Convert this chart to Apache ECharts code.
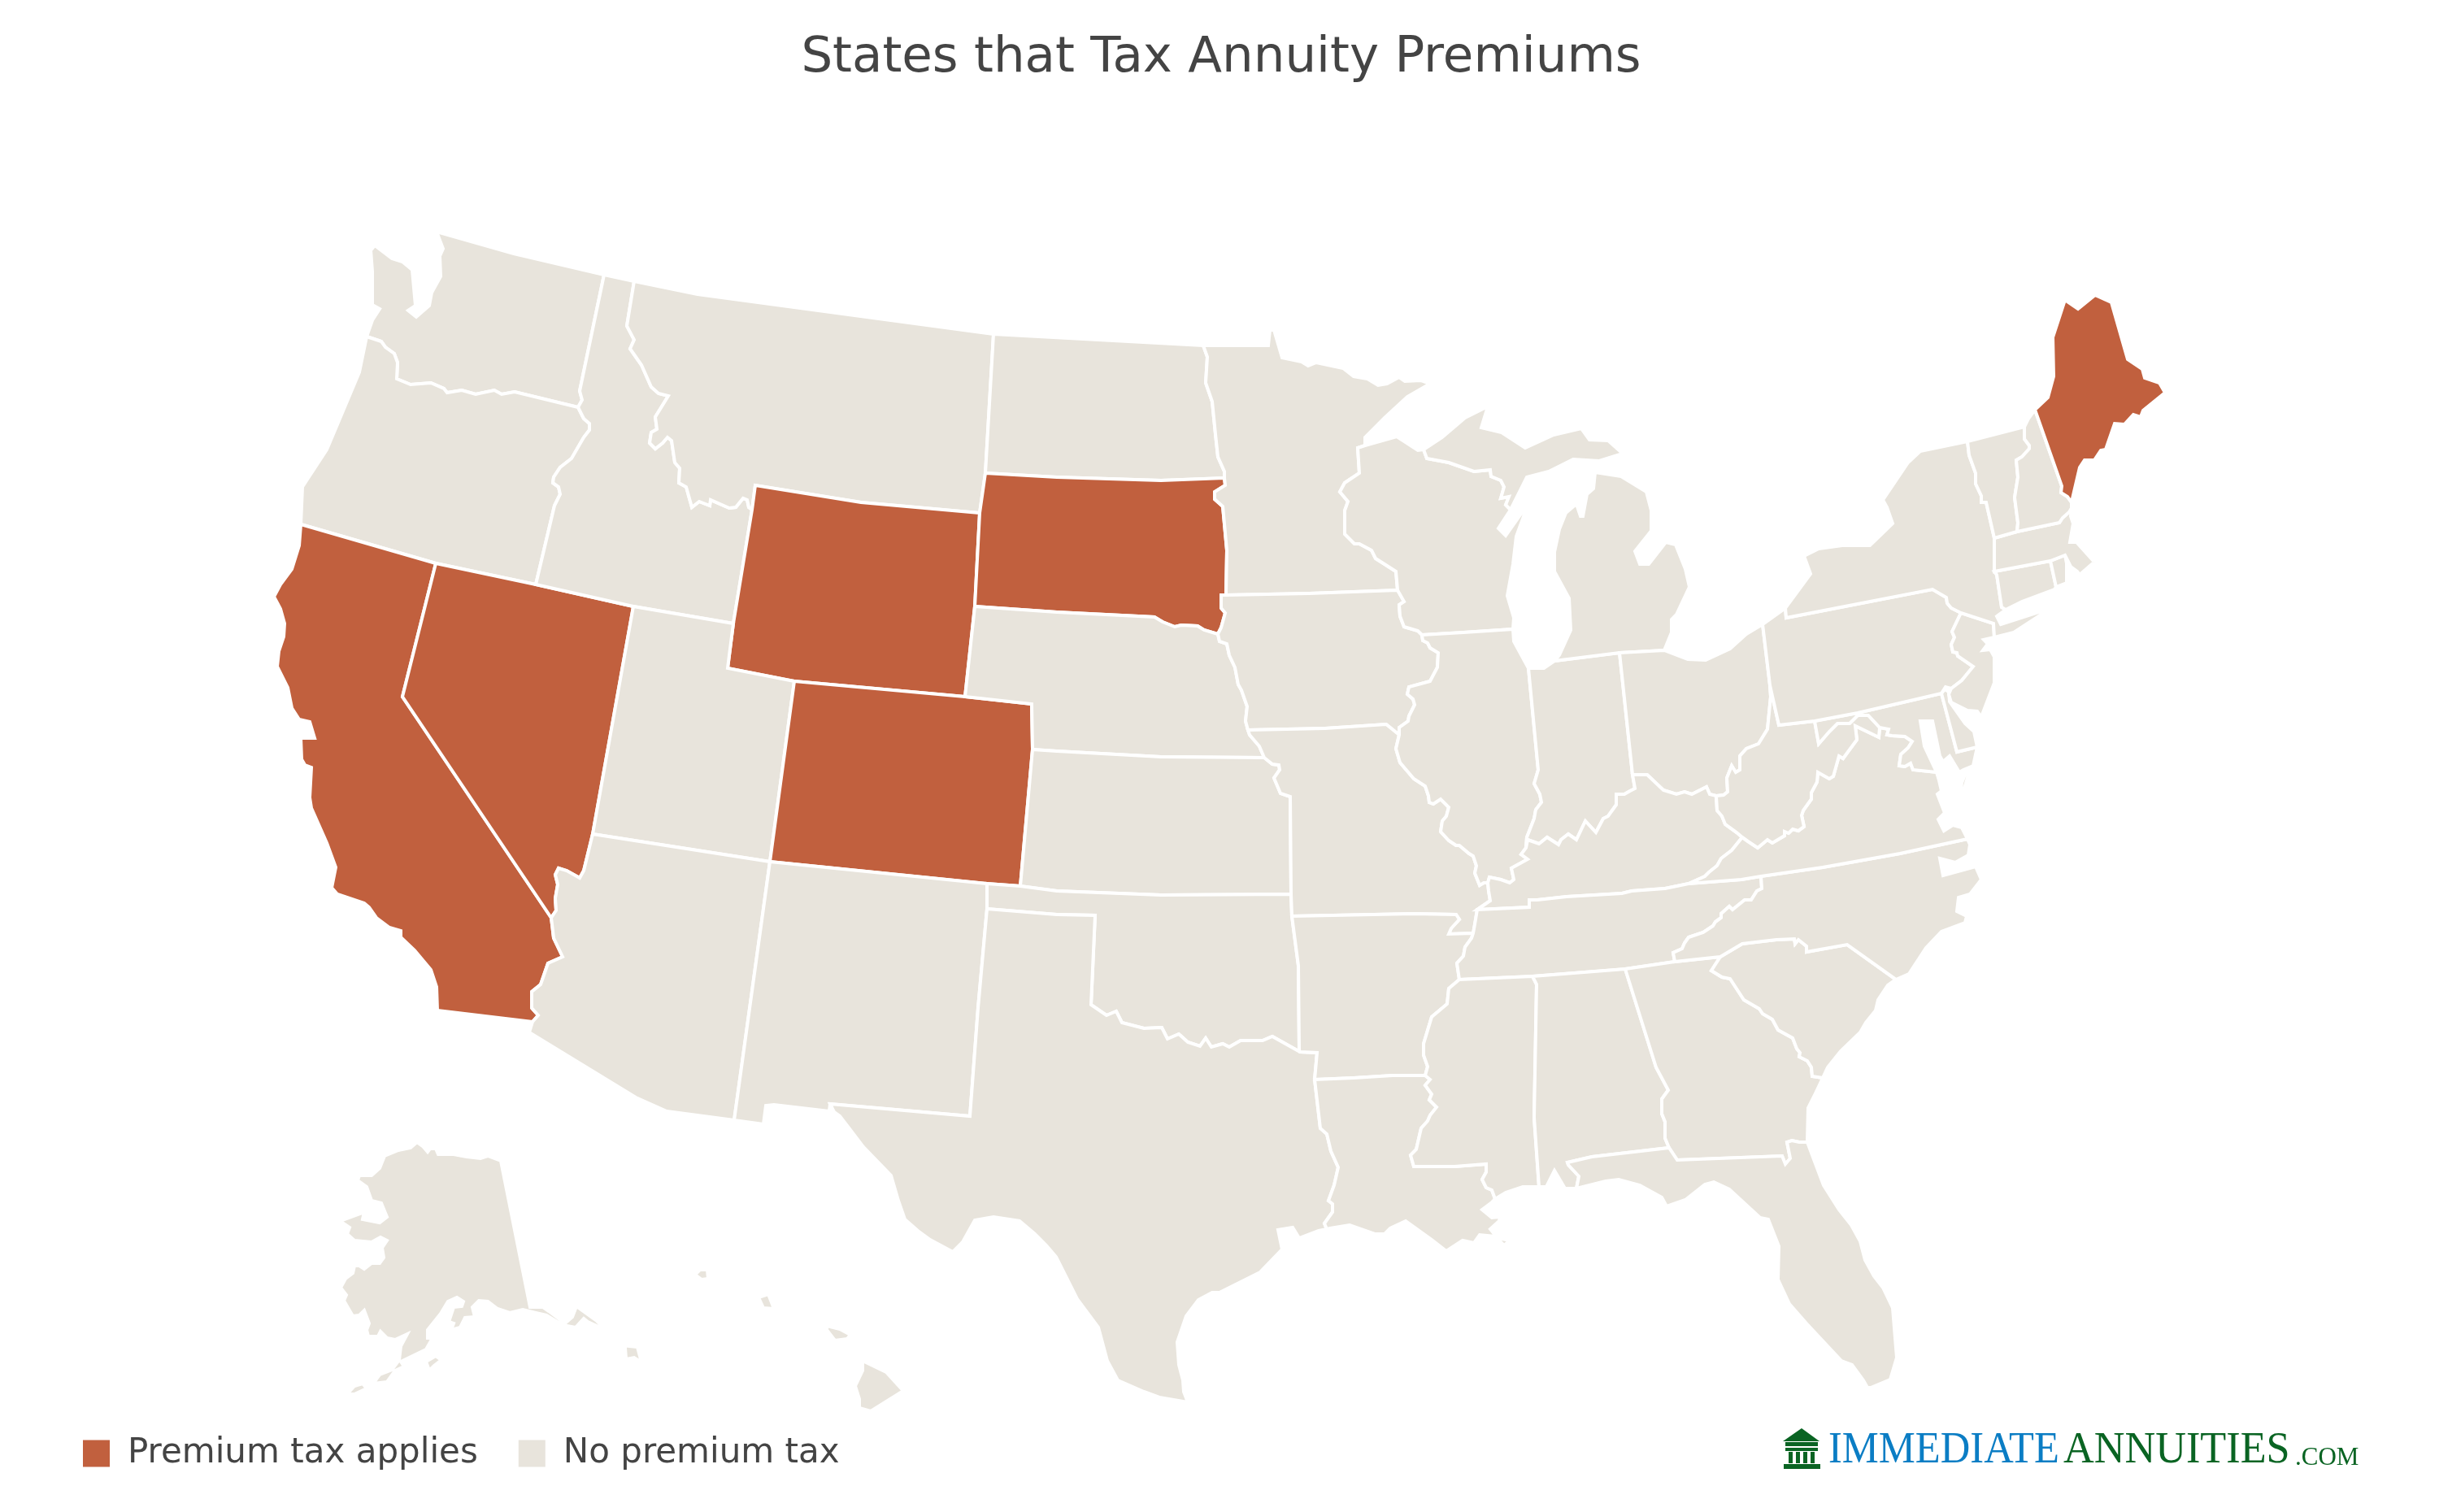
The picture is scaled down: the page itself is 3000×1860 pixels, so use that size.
<!DOCTYPE html>
<html>
<head>
<meta charset="utf-8">
<title>States that Tax Annuity Premiums</title>
<script src="https://cdn.jsdelivr.net/npm/echarts@6/dist/echarts.min.js"></script>
<style>
  html, body { margin: 0; background: #fff; }
  #chart { width: 3000px; height: 1860px; }
</style>
</head>
<body>
<div id="chart"></div>
<script>
// state lines in map units (x to the right, y downwards), traced from the picture
// and named after the two sides they separate so neighbours share one line
const waCoast = [[451,414],[458,394],[467,380],[458,375],[458,334],[456,308],[461,302],[482,318],[495,322],[507,332],[511,376],[502,382],[512,390],[528,376],[531,360],[542,340],[541,315],[545,306],[537,285]];
const waNorth = [[537,285],[632,312],[743,338]];
const waId = [[743,338],[713,481],[716,492],[711,501]];
const waOr = [[451,414],[469,420],[474,427],[485,435],[489,446],[488,466],[505,473],[530,471],[546,478],[550,483],[568,480],[585,485],[608,480],[617,485],[633,482],[711,501]];
const orId = [[711,501],[718,515],[725,521],[725,529],[718,538],[703,564],[689,575],[681,587],[680,594],[687,599],[689,608],[682,622],[659,719]];
const orCoast = [[451,414],[442,458],[402,553],[372,599],[370,645]];
const orCa = [[370,645],[536,693]];
const orNv = [[536,693],[659,719]];
const idNv = [[659,719],[779,746]];
const idUt = [[779,746],[902,767]];
const idNorth = [[743,338],[780,346]];
const idMt = [[780,346],[771,401],[780,418],[775,429],[782,439],[789,449],[801,476],[810,484],[822,487],[806,513],[808,528],[801,532],[799,545],[806,552],[815,545],[821,538],[826,542],[830,569],[836,576],[835,594],[844,599],[851,624],[860,617],[873,622],[874,615],[897,625],[905,624],[914,613],[919,615],[921,624],[925,627]];
const idWy = [[925,627],[902,767]];
const mtNorth = [[780,346],[858,362],[1222,411]];
const mtWy = [[925,627],[929,597],[1059,618],[1205,631]];
const mtNd = [[1222,411],[1212,582]];
const mtSd = [[1212,582],[1205,631]];
const ndNorth = [[1222,411],[1480,425]];
const ndSd = [[1212,582],[1300,587],[1428,591],[1506,588]];
const ndMn = [[1480,425],[1485,439],[1483,471],[1491,494],[1495,534],[1498,562],[1506,580],[1506,588]];
const sdMn = [[1506,588],[1507,597],[1494,605],[1494,614],[1504,623],[1509,677],[1508,732]];
const sdIa = [[1508,732],[1502,732],[1502,748],[1507,754],[1502,772],[1498,780]];
const neSd = [[1199,746],[1300,753],[1420,759],[1430,765],[1445,771],[1453,769],[1473,770],[1481,775],[1498,780]];
const wySd = [[1205,631],[1199,746]];
const wyNe = [[1199,746],[1187,857]];
const coWy = [[977,838],[1187,857]];
const utWy = [[902,767],[895,822],[977,838]];
const utCo = [[977,838],[947,1060]];
const utAz = [[729,1026],[947,1060]];
const nvUt = [[779,746],[729,1026]];
const nvAz = [[729,1026],[718,1071],[713,1080],[697,1071],[687,1068],[683,1076],[686,1088],[683,1105],[684,1120],[678,1129]];
const caNv = [[536,693],[495,857],[678,1129]];
const caAz = [[678,1129],[681,1154],[692,1177],[674,1185],[665,1211],[654,1220],[654,1240],[662,1249],[655,1257]];
const caMex = [[655,1257],[538,1243]];
const caCoast = [[538,1243],[537,1214],[530,1193],[510,1169],[493,1153],[493,1145],[479,1141],[463,1129],[454,1116],[448,1111],[415,1100],[408,1092],[413,1067],[402,1037],[383,994],[381,981],[383,944],[375,941],[371,934],[370,908],[387,908],[381,888],[368,885],[359,871],[354,846],[341,820],[343,801],[349,783],[350,767],[345,749],[337,734],[345,719],[359,700],[368,671],[370,645]];
const azMex = [[655,1257],[651,1270],[782,1350],[820,1367],[903,1378]];
const azNm = [[947,1060],[903,1378]];
const coNm = [[947,1060],[1214,1087]];
const coOk = [[1214,1087],[1255,1090]];
const neCo = [[1187,857],[1269,866],[1270,922]];
const coKs = [[1270,922],[1255,1090]];
const nmOk = [[1214,1087],[1214,1118]];
const nmTx = [[1214,1118],[1203,1240],[1193,1373],[1021,1358]];
const nmMex = [[1021,1358],[1020,1367],[952,1359],[942,1360],[939,1383],[903,1378]];
const iaNe = [[1498,780],[1500,789],[1509,792],[1512,806],[1519,821],[1523,842],[1527,849],[1534,869],[1532,887],[1535,898]];
const neMo = [[1535,898],[1537,904],[1549,918],[1555,932]];
const neKs = [[1270,922],[1300,924],[1428,931],[1555,932]];
const ksMo = [[1555,932],[1565,940],[1573,941],[1574,947],[1567,957],[1575,976],[1587,980],[1588,1100]];
const ksOk = [[1255,1090],[1300,1096],[1428,1101],[1588,1100]];
const okMo = [[1588,1100],[1589,1127]];
const okAr = [[1589,1127],[1597,1188],[1598,1292],[1599,1294]];
const okTx = [[1214,1118],[1300,1125],[1347,1126],[1342,1236],[1361,1249],[1373,1244],[1380,1258],[1407,1265],[1429,1264],[1436,1278],[1450,1272],[1461,1282],[1476,1287],[1483,1277],[1490,1288],[1504,1284],[1512,1288],[1526,1280],[1553,1280],[1565,1275],[1599,1294]];
const txAr = [[1599,1294],[1620,1295],[1617,1328]];
const txLa = [[1617,1328],[1624,1388],[1632,1395],[1637,1416],[1646,1436],[1641,1458],[1634,1477],[1639,1481],[1639,1491],[1629,1505],[1632,1512]];
const txCoast = [[1632,1512],[1622,1514],[1598,1523],[1590,1510],[1572,1513],[1577,1537],[1550,1565],[1500,1590],[1491,1590],[1474,1599],[1459,1619],[1448,1651],[1450,1679],[1455,1698],[1456,1712],[1461,1725],[1426,1719],[1407,1712],[1375,1698],[1362,1674],[1351,1633],[1325,1598],[1299,1546],[1287,1532],[1273,1518],[1254,1502],[1222,1497],[1199,1501],[1184,1528],[1172,1540],[1144,1525],[1129,1514],[1113,1500],[1105,1477],[1096,1446],[1062,1411],[1043,1386],[1033,1373],[1026,1368],[1021,1358]];
const mnNorth = [[1480,425],[1560,425],[1562,406],[1567,406],[1577,440],[1601,445],[1609,450],[1619,446],[1652,453],[1665,463],[1682,466],[1695,474],[1706,472],[1721,464],[1728,469],[1748,468],[1759,472],[1731,488],[1703,514],[1679,538],[1679,548]];
const mnWi = [[1679,548],[1670,551],[1672,582],[1654,594],[1648,605],[1658,617],[1654,628],[1654,657],[1666,669],[1672,669],[1687,677],[1692,687],[1703,694],[1717,703],[1719,726]];
const mnIa = [[1508,732],[1610,730],[1719,726]];
const wiIa = [[1719,726],[1727,740],[1721,744],[1722,758],[1727,771],[1744,776],[1749,781]];
const iaIl = [[1749,781],[1750,788],[1756,791],[1759,797],[1769,803],[1768,821],[1759,838],[1733,845],[1731,854],[1738,860],[1740,867],[1733,881],[1732,887],[1721,895],[1721,904]];
const iaMo = [[1535,898],[1630,896],[1705,891],[1721,904]];
const ilMo = [[1721,904],[1717,921],[1722,938],[1739,958],[1753,967],[1757,979],[1758,987],[1763,989],[1772,983],[1782,993],[1779,1004],[1774,1010],[1772,1023],[1782,1034],[1791,1040],[1795,1040],[1807,1050],[1812,1053],[1816,1065],[1814,1074],[1820,1089],[1825,1086],[1830,1086]];
const ilKy = [[1830,1086],[1832,1079],[1846,1082],[1857,1086],[1862,1082],[1859,1068],[1879,1057],[1871,1051],[1877,1043]];
const moKy = [[1830,1086],[1831,1096],[1833,1108],[1817,1119]];
const moTn = [[1817,1119],[1814,1137],[1812,1148]];
const moAr = [[1589,1127],[1739,1124],[1791,1125],[1795,1131],[1785,1142],[1782,1149],[1812,1148]];
const arTn = [[1812,1148],[1810,1154],[1802,1165],[1800,1176],[1792,1185],[1795,1205]];
const arMs = [[1795,1205],[1782,1216],[1780,1235],[1761,1251],[1751,1284],[1751,1298],[1756,1312],[1753,1323]];
const arLa = [[1617,1328],[1665,1326],[1713,1323],[1753,1323]];
const laMs = [[1753,1323],[1759,1328],[1753,1335],[1761,1346],[1758,1353],[1767,1362],[1759,1372],[1756,1379],[1748,1388],[1742,1414],[1735,1421],[1739,1435],[1789,1435],[1828,1432],[1828,1442],[1823,1451],[1828,1461],[1835,1464],[1839,1475]];
const laCoast = [[1839,1475],[1835,1479],[1823,1488],[1835,1498],[1845,1497],[1844,1502],[1833,1512],[1842,1523],[1857,1526],[1850,1532],[1839,1521],[1820,1519],[1813,1529],[1799,1526],[1779,1539],[1761,1525],[1729,1502],[1710,1511],[1703,1518],[1691,1518],[1660,1507],[1636,1511],[1632,1512]];
const tnMs = [[1795,1205],[1885,1201]];
const msAl = [[1885,1201],[1890,1211],[1887,1375],[1893,1460]];
const msCoast = [[1893,1460],[1873,1460],[1852,1467],[1839,1475]];
const alTn = [[1885,1201],[1999,1192]];
const alGa = [[1999,1192],[2037,1313],[2052,1341],[2044,1352],[2044,1370],[2048,1380],[2048,1400],[2053,1412]];
const alFl = [[2053,1412],[1958,1423],[1928,1430],[1929,1433],[1942,1447],[1939,1462]];
const alCoast = [[1939,1462],[1925,1462],[1912,1440],[1902,1460],[1893,1460]];
const gaTn = [[1999,1192],[2060,1183]];
const gaNc = [[2060,1183],[2116,1177]];
const gaSc = [[2116,1177],[2105,1194],[2118,1202],[2128,1204],[2145,1230],[2164,1241],[2168,1247],[2180,1254],[2187,1267],[2205,1277],[2210,1290],[2214,1295],[2213,1300],[2223,1305],[2228,1313],[2229,1324],[2242,1326]];
const gaCoast = [[2242,1326],[2233,1345],[2224,1363],[2223,1405]];
const gaFl = [[2223,1405],[2213,1405],[2204,1403],[2198,1405],[2202,1425],[2196,1432],[2192,1422],[2063,1427],[2053,1412]];
const flCoast = [[2223,1405],[2243,1458],[2262,1488],[2277,1507],[2288,1527],[2294,1550],[2305,1570],[2316,1584],[2328,1609],[2333,1670],[2325,1697],[2301,1707],[2297,1707],[2292,1698],[2278,1679],[2265,1674],[2222,1628],[2201,1604],[2187,1574],[2188,1533],[2175,1500],[2165,1498],[2127,1463],[2108,1454],[2097,1457],[2073,1476],[2050,1484],[2044,1473],[2017,1458],[1991,1451],[1975,1453],[1939,1462]];
const ncTn = [[2060,1183],[2058,1172],[2069,1167],[2072,1160],[2077,1153],[2095,1147],[2107,1139],[2110,1134],[2117,1129],[2117,1124],[2127,1115],[2131,1119],[2146,1107],[2154,1107],[2161,1096],[2167,1093],[2166,1078]];
const kyTn = [[1817,1119],[1881,1116],[1881,1107],[1891,1107],[1927,1103],[1995,1099],[2007,1096],[2048,1093],[2077,1087]];
const vaTn = [[2077,1087],[2142,1082],[2166,1078]];
const vaNc = [[2166,1078],[2242,1067],[2337,1050],[2420,1032]];
const ncCoast = [[2420,1032],[2423,1039],[2421,1052],[2405,1061],[2386,1056],[2390,1077],[2430,1066],[2437,1082],[2423,1100],[2409,1104],[2407,1121],[2419,1127],[2417,1135],[2388,1146],[2369,1166],[2348,1198],[2332,1205]];
const ncSc = [[2116,1177],[2143,1161],[2185,1156],[2207,1155],[2208,1161],[2212,1156],[2222,1164],[2222,1171],[2272,1162],[2332,1205]];
const scCoast = [[2332,1205],[2322,1212],[2310,1230],[2307,1243],[2295,1258],[2288,1270],[2264,1293],[2248,1313],[2242,1326]];
const kyVa = [[2077,1087],[2097,1078],[2102,1073],[2112,1065],[2117,1056],[2130,1046],[2143,1030]];
const kyWv = [[2143,1030],[2136,1024],[2122,1014],[2118,1004],[2112,997],[2111,979]];
const ohKy = [[2008,953],[2026,953],[2046,972],[2062,977],[2072,974],[2081,977],[2099,968],[2103,977],[2111,979]];
const inKy = [[1877,1043],[1879,1033],[1893,1038],[1903,1030],[1917,1039],[1920,1033],[1929,1026],[1939,1033],[1950,1010],[1963,1024],[1972,1007],[1978,1004],[1988,990],[1988,977],[1998,977],[2005,973],[2011,970],[2008,953]];
const ilIn = [[1880,822],[1892,947],[1887,964],[1894,977],[1896,987],[1889,996],[1887,1007],[1878,1030],[1877,1043]];
const inOh = [[1992,803],[2008,953]];
const inLake = [[1880,822],[1899,822],[1912,813]];
const inMi = [[1912,813],[1992,803]];
const miOh = [[1992,803],[2047,800]];
const ohLake = [[2047,800],[2076,811],[2098,812],[2128,798],[2148,780],[2168,768]];
const ohPa = [[2168,768],[2177,843]];
const ohWv = [[2177,843],[2178,857],[2174,897],[2163,915],[2148,921],[2140,930],[2140,947],[2135,950],[2130,942],[2124,957],[2125,974],[2120,978],[2111,979]];
const wvPa = [[2177,843],[2188,892]];
const paWv = [[2188,892],[2232,887]];
const mdWv = [[2232,887],[2237,915],[2250,900],[2260,890],[2275,890],[2285,880],[2298,880],[2312,895]];
const wvVa = [[2312,895],[2311,907],[2282,893],[2284,910],[2267,933],[2262,930],[2255,955],[2250,958],[2236,950],[2235,962],[2228,975],[2228,983],[2218,997],[2216,1003],[2219,1017],[2212,1022],[2205,1020],[2200,1025],[2195,1023],[2195,1028],[2180,1037],[2174,1033],[2162,1043],[2150,1035],[2143,1030]];
const mdVa = [[2312,895],[2323,897],[2321,904],[2327,905],[2343,906],[2352,912],[2347,920],[2338,928],[2336,942],[2343,943],[2350,939],[2353,947],[2382,950]];
const vaCoast = [[2420,1032],[2413,1018],[2402,1015],[2391,1022],[2384,1008],[2392,1000],[2383,977],[2388,973],[2385,960],[2382,950]];
const vaShore = [[2422,950],[2410,990],[2413,963],[2417,953]];
const paMd = [[2232,887],[2285,877],[2388,853]];
const mdDe = [[2388,853],[2407,925]];
const mdShore = [[2407,925],[2432,919],[2427,942],[2415,947],[2410,950],[2398,930],[2390,937],[2386,930],[2377,887],[2362,887],[2367,918],[2382,950]];
const deCoast = [[2388,853],[2392,848],[2397,851],[2398,863],[2417,890],[2428,900],[2432,919],[2407,925]];
const paLake = [[2168,768],[2196,748]];
const paNy = [[2196,748],[2197,760],[2377,725],[2394,735],[2395,742],[2400,748],[2412,754]];
const paNj = [[2412,754],[2401,777],[2404,784],[2400,793],[2402,802],[2407,803],[2408,807],[2427,820],[2413,837],[2400,847]];
const paDe = [[2400,847],[2393,845],[2388,853]];
const nyNj = [[2412,754],[2452,767],[2453,784]];
const njCoast = [[2453,784],[2440,787],[2445,792],[2439,800],[2448,799],[2453,808],[2453,840],[2437,882],[2432,875],[2420,874],[2400,864],[2397,854],[2400,847]];
const nyLake = [[2196,748],[2227,706],[2219,684],[2237,675],[2266,671],[2300,671],[2328,644],[2321,624],[2316,615],[2347,569],[2362,555],[2420,543]];
const nyVt = [[2420,543],[2422,560],[2430,582],[2430,595],[2437,610],[2437,618],[2443,618],[2453,662]];
const nyMa = [[2453,662],[2453,703]];
const nyCt = [[2453,703],[2456,707],[2462,747],[2467,750]];
const nyCoast = [[2467,750],[2456,758],[2461,768],[2523,748],[2500,763],[2477,778],[2453,784]];
const vtNorth = [[2420,543],[2490,525]];
const vtNh = [[2490,525],[2490,540],[2496,548],[2496,552],[2487,562],[2480,566],[2482,587],[2478,612],[2482,643],[2481,654]];
const vtMa = [[2481,654],[2453,662]];
const nhNorth = [[2490,525],[2495,515],[2503,504]];
const nhMe = [[2503,504],[2536,598],[2535,606],[2543,611],[2548,618]];
const nhCoast = [[2548,618],[2548,625]];
const nhMa = [[2548,625],[2545,630],[2537,637],[2533,643],[2481,654]];
const meCoast = [[2503,504],[2519,489],[2526,463],[2525,415],[2540,369],[2556,380],[2577,363],[2597,372],[2617,442],[2635,454],[2638,465],[2656,471],[2663,483],[2636,505],[2633,513],[2624,510],[2613,522],[2601,521],[2590,553],[2584,554],[2576,566],[2564,566],[2558,575],[2548,618]];
const maCoast = [[2548,625],[2547,635],[2550,644],[2546,667],[2554,667],[2574,689],[2590,690],[2598,686],[2598,688],[2574,693],[2558,707],[2555,703],[2547,697],[2540,683]];
const maRi = [[2540,683],[2522,690]];
const maCt = [[2522,690],[2453,703]];
const ctRi = [[2522,690],[2529,722]];
const ctCoast = [[2467,750],[2487,740],[2527,725],[2529,722]];
const riCoast = [[2540,683],[2542,693],[2542,717],[2529,722]];
const wiSuperior = [[1679,548],[1718,537],[1744,554],[1751,553]];
const wiMi = [[1751,553],[1755,564],[1782,569],[1813,580],[1833,578],[1834,586],[1846,591],[1850,599],[1846,613],[1856,611],[1852,621],[1858,627]];
const wiLake = [[1858,627],[1843,650],[1852,659],[1880,619],[1865,660],[1861,694],[1854,733],[1862,760],[1861,774]];
const wiIl = [[1749,781],[1800,778],[1861,774]];
const ilLake = [[1861,774],[1862,789],[1880,822]];
const miUpper = [[1751,553],[1774,538],[1802,514],[1830,500],[1822,526],[1847,532],[1876,551],[1911,535],[1945,527],[1955,541],[1978,542],[1996,558],[1967,567],[1935,565],[1905,580],[1878,587],[1860,623],[1858,627]];
const miLowerEast = [[1962,581],[1994,586],[2025,605],[2031,628],[2031,653],[2011,678],[2017,694],[2028,694],[2049,667],[2061,670],[2073,700],[2078,722],[2062,756],[2056,762],[2056,778],[2047,800]];
const miLowerWest = [[1912,813],[1918,806],[1932,775],[1930,736],[1912,703],[1912,679],[1918,651],[1926,631],[1939,620],[1944,635],[1947,635],[1952,608],[1960,601],[1962,581]];

const alaskaMain = [[616,1428],[652,1608],[668,1608],[675,1613],[695,1628],[704,1620],[709,1607],[734,1625],[765,1655],[784,1657],[789,1676],[780,1670],[770,1672],[769,1658],[754,1650],[738,1633],[723,1626],[718,1622],[708,1633],[692,1630],[672,1618],[659,1615],[643,1611],[627,1615],[612,1610],[600,1601],[589,1600],[581,1608],[584,1620],[572,1621],[566,1633],[555,1636],[558,1628],[552,1626],[558,1608],[568,1607],[570,1601],[562,1596],[551,1601],[542,1616],[526,1636],[526,1646],[532,1646],[524,1660],[493,1675],[497,1681],[486,1686],[476,1700],[459,1702],[467,1691],[482,1685],[491,1673],[493,1656],[501,1641],[486,1648],[476,1646],[468,1638],[465,1644],[453,1644],[451,1636],[454,1628],[448,1612],[442,1618],[434,1619],[423,1600],[426,1593],[419,1584],[425,1573],[434,1566],[436,1557],[442,1557],[448,1561],[457,1554],[467,1554],[472,1547],[470,1535],[476,1526],[468,1522],[457,1528],[436,1526],[427,1518],[430,1510],[418,1502],[448,1491],[446,1500],[467,1504],[476,1497],[469,1480],[457,1477],[451,1460],[440,1452],[442,1446],[457,1446],[467,1437],[473,1422],[490,1415],[505,1412],[513,1405],[520,1410],[526,1417],[529,1413],[536,1413],[539,1420],[558,1420],[574,1423],[591,1425],[600,1422]];
const alaskaKodiak = [[536,1668],[543,1673],[534,1680],[528,1686],[524,1675]];
const alaskaNunivak = [[404,1609],[413,1610],[409,1615]];
const alaskaLawrence = [[380,1535],[395,1546],[388,1546]];
const alaskaTail = [[446,1702],[451,1708],[436,1715],[427,1715],[436,1705]];
const alaskaTailEnd = [[419,1718],[425,1723],[409,1721]];
const hawaiiKauai = [[861,1562],[870,1562],[871,1573],[863,1574],[855,1568]];
const hawaiiOahu = [[945,1592],[952,1610],[939,1609],[933,1596]];
const hawaiiMolokai = [[985,1620],[992,1622],[987,1623]];
const hawaiiMaui = [[1017,1631],[1033,1635],[1046,1642],[1042,1647],[1027,1649],[1017,1636]];
const hawaiiBig = [[1061,1674],[1090,1688],[1111,1711],[1071,1736],[1057,1732],[1057,1721],[1052,1705],[1061,1686]];

const taxStates = ['California', 'Nevada', 'Wyoming', 'Colorado', 'South Dakota', 'Maine'];
const legendLabels = ['Premium tax applies', 'No premium tax'];

const rev = line => line.slice().reverse();
const ring = (...lines) => lines.flat();

const stateShapes = {
  'Washington': [ring(waCoast, waNorth, waId, rev(waOr))],
  'Oregon': [ring(waOr, orId, rev(orNv), rev(orCa), rev(orCoast))],
  'California': [ring(orCa, caNv, caAz, caMex, caCoast)],
  'Nevada': [ring(orNv, idNv, nvUt, nvAz, rev(caNv))],
  'Idaho': [ring(idNorth, idMt, idWy, rev(idUt), rev(idNv), rev(orId), rev(waId))],
  'Montana': [ring(mtNorth, mtNd, mtSd, rev(mtWy), rev(idMt))],
  'Wyoming': [ring(mtWy, wySd, wyNe, rev(coWy), rev(utWy), rev(idWy))],
  'Utah': [ring(idUt, utWy, utCo, rev(utAz), rev(nvUt))],
  'Colorado': [ring(coWy, neCo, coKs, rev(coOk), rev(coNm), rev(utCo))],
  'Arizona': [ring(utAz, azNm, rev(azMex), rev(caAz), rev(nvAz))],
  'New Mexico': [ring(coNm, nmOk, nmTx, nmMex, rev(azNm))],
  'North Dakota': [ring(ndNorth, ndMn, rev(ndSd), rev(mtNd))],
  'South Dakota': [ring(ndSd, sdMn, sdIa, rev(neSd), rev(wySd), rev(mtSd))],
  'Nebraska': [ring(neSd, iaNe, neMo, rev(neKs), rev(neCo), rev(wyNe))],
  'Kansas': [ring(neKs, ksMo, rev(ksOk), rev(coKs))],
  'Oklahoma': [ring(coOk, ksOk, okMo, okAr, rev(okTx), rev(nmOk))],
  'Texas': [ring(okTx, txAr, txLa, txCoast, rev(nmTx))],
  'Minnesota': [ring(mnNorth, mnWi, rev(mnIa), rev(sdMn), rev(ndMn))],
  'Iowa': [ring(mnIa, wiIa, iaIl, rev(iaMo), rev(iaNe), rev(sdIa))],
  'Missouri': [ring(iaMo, ilMo, moKy, moTn, rev(moAr), rev(okMo), rev(ksMo), rev(neMo))],
  'Arkansas': [ring(moAr, arTn, arMs, rev(arLa), rev(txAr), rev(okAr))],
  'Louisiana': [ring(arLa, laMs, laCoast, rev(txLa))],
  'Wisconsin': [ring(wiSuperior, wiMi, wiLake, rev(wiIl), rev(wiIa), rev(mnWi))],
  'Illinois': [ring(wiIl, ilLake, ilIn, rev(ilKy), rev(ilMo), rev(iaIl))],
  'Indiana': [ring(inLake, inMi, inOh, rev(inKy), rev(ilIn))],
  'Michigan': [ring(rev(wiMi), miUpper), ring(miLowerEast, rev(miOh), rev(inMi), miLowerWest)],
  'Ohio': [ring(miOh, ohLake, ohPa, ohWv, rev(ohKy), rev(inOh))],
  'Kentucky': [ring(inKy, ohKy, rev(kyWv), rev(kyVa), rev(kyTn), rev(moKy), ilKy)],
  'Tennessee': [ring(kyTn, vaTn, rev(ncTn), rev(gaTn), rev(alTn), rev(tnMs), rev(arTn), rev(moTn))],
  'Mississippi': [ring(tnMs, msAl, msCoast, rev(laMs), rev(arMs))],
  'Alabama': [ring(alTn, alGa, alFl, alCoast, rev(msAl))],
  'Georgia': [ring(gaTn, gaNc, gaSc, gaCoast, gaFl, rev(alGa))],
  'Florida': [ring(rev(alFl), rev(gaFl), flCoast)],
  'South Carolina': [ring(ncSc, scCoast, rev(gaSc))],
  'North Carolina': [ring(vaNc, ncCoast, rev(ncSc), rev(gaNc), ncTn)],
  'Virginia': [ring(kyVa, rev(wvVa), mdVa, rev(vaCoast), rev(vaNc), rev(vaTn)), vaShore],
  'West Virginia': [ring(wvPa, paWv, mdWv, wvVa, kyWv, rev(ohWv))],
  'Maryland': [ring(paMd, mdDe, mdShore, rev(mdVa), rev(mdWv))],
  'Delaware': [deCoast],
  'Pennsylvania': [ring(paLake, paNy, paNj, paDe, rev(paMd), rev(paWv), rev(wvPa), rev(ohPa))],
  'New Jersey': [ring(nyNj, njCoast, rev(paNj))],
  'New York': [ring(nyLake, nyVt, nyMa, nyCt, nyCoast, rev(nyNj), rev(paNy))],
  'Connecticut': [ring(maCt, nyCt, ctCoast, rev(ctRi))],
  'Rhode Island': [ring(rev(maRi), riCoast, rev(ctRi))],
  'Massachusetts': [ring(nhMa, vtMa, nyMa, rev(maCt), rev(maRi), rev(maCoast))],
  'Vermont': [ring(vtNorth, vtNh, vtMa, rev(nyVt))],
  'New Hampshire': [ring(nhNorth, nhMe, nhCoast, nhMa, rev(vtNh))],
  'Maine': [ring(meCoast, rev(nhMe))],
  'Alaska': [alaskaMain, alaskaKodiak, alaskaNunivak, alaskaLawrence, alaskaTail, alaskaTailEnd],
  'Hawaii': [hawaiiKauai, hawaiiOahu, hawaiiMolokai, hawaiiMaui, hawaiiBig]
};

const MAP_W = 3000;
const MAP_H = 1860;

// geo y runs upwards, the traced lines run downwards
const usaGeo = {
  type: 'FeatureCollection',
  features: Object.keys(stateShapes).map(name => ({
    type: 'Feature',
    properties: { name },
    geometry: {
      type: 'MultiPolygon',
      coordinates: stateShapes[name].map(r => [r.map(p => [p[0], MAP_H - p[1]])])
    }
  }))
};
echarts.registerMap('usa', usaGeo);

const chart = echarts.init(document.getElementById('chart'));

const BLUE = '#0b7dc4';
const GREEN = '#0a6423';
const SERIF = '"Liberation Serif", serif';

const logo = [
  { type: 'polygon', shape: { points: [[2193, 1773], [2216, 1757], [2238, 1773]] }, style: { fill: GREEN } },
  { type: 'rect', shape: { x: 2196, y: 1774, width: 40, height: 5 }, style: { fill: GREEN } },
  { type: 'rect', shape: { x: 2196, y: 1781, width: 40, height: 4 }, style: { fill: GREEN } },
  { type: 'rect', shape: { x: 2200, y: 1786, width: 5, height: 14 }, style: { fill: GREEN } },
  { type: 'rect', shape: { x: 2209, y: 1786, width: 5, height: 14 }, style: { fill: GREEN } },
  { type: 'rect', shape: { x: 2218, y: 1786, width: 5, height: 14 }, style: { fill: GREEN } },
  { type: 'rect', shape: { x: 2227, y: 1786, width: 5, height: 14 }, style: { fill: GREEN } },
  { type: 'rect', shape: { x: 2194, y: 1801, width: 45, height: 6 }, style: { fill: GREEN } },
  { type: 'text', x: 2249, y: 1757, scaleX: 0.92, style: { text: 'IMMEDIATE', fontFamily: SERIF, fontSize: 55, fill: BLUE } },
  { type: 'text', x: 2538, y: 1757, scaleX: 0.95, style: { text: 'ANNUITIES', fontFamily: SERIF, fontSize: 55, fill: GREEN } },
  { type: 'text', x: 2823, y: 1778, style: { text: '.COM', fontFamily: SERIF, fontSize: 31, fill: GREEN } }
];

const option = {
  backgroundColor: '#fff',
  animation: false,
  title: {
    text: 'States that Tax Annuity Premiums',
    left: 1497,
    top: 37,
    textAlign: 'center',
    textStyle: { fontFamily: 'DejaVu Sans', fontSize: 61, fontWeight: 'normal', color: '#444444' }
  },
  visualMap: {
    type: 'piecewise',
    left: 87,
    top: 1752,
    orient: 'horizontal',
    inverse: true,
    itemSymbol: 'rect',
    itemWidth: 33,
    itemHeight: 33,
    itemGap: 50,
    textGap: 22,
    selectedMode: false,
    hoverLink: false,
    pieces: [
      { value: 1, label: legendLabels[0], color: '#c1603e' },
      { value: 0, label: legendLabels[1], color: '#e8e4dc' }
    ],
    textStyle: { fontFamily: 'DejaVu Sans', fontSize: 42, color: '#444444' }
  },
  graphic: logo,
  series: [
    {
      type: 'map',
      map: 'usa',
      silent: true,
      left: 0,
      top: 0,
      width: MAP_W,
      height: MAP_H,
      aspectScale: 1,
      boundingCoords: [[0, MAP_H], [MAP_W, 0]],
      selectedMode: false,
      label: { show: false },
      emphasis: { disabled: true },
      itemStyle: { borderColor: '#ffffff', borderWidth: 4 },
      data: Object.keys(stateShapes).map(name => ({
        name,
        value: taxStates.includes(name) ? 1 : 0
      }))
    }
  ]
};

chart.setOption(option);

window.addEventListener('resize', () => chart.resize());
</script>
</body>
</html>
